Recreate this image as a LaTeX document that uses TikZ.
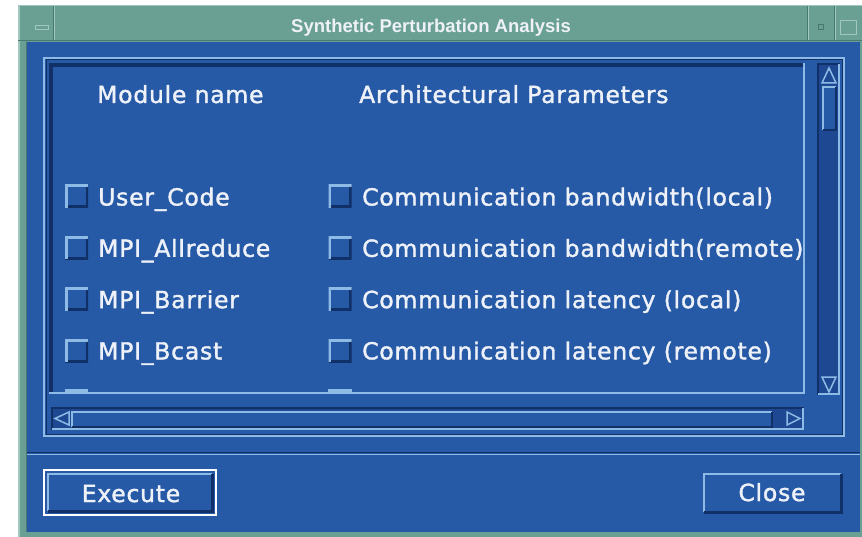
\documentclass[tikz,border=0pt]{standalone}
\usepackage{fontspec}
\setmainfont{DejaVu Sans}
\newfontfamily\guifont[LetterSpace=3.2,FakeBold=1.5]{DejaVu Sans}
\newfontfamily\titlefont{Liberation Sans}
\definecolor{bgblue}{RGB}{38,90,166}
\definecolor{teal}{RGB}{106,160,148}
\definecolor{tealdark}{RGB}{72,120,112}
\definecolor{teallight}{RGB}{160,200,190}
\definecolor{edgelight}{RGB}{142,186,230}
\definecolor{edgedark}{RGB}{18,48,104}
\definecolor{trough}{RGB}{30,72,145}
\definecolor{textc}{RGB}{238,242,248}
\tikzset{
  lbl/.style={anchor=base west, inner sep=0, text=textc, font=\guifont\fontsize{23.5}{26}\selectfont},
  btxt/.style={anchor=base, inner sep=0, text=textc, font=\guifont\fontsize{23.5}{26}\selectfont},
  cbox/.style={minimum width=23pt, minimum height=23pt, inner sep=0, fill=bgblue,
    path picture={
      \draw[edgedark, line width=5pt] (path picture bounding box.south west) -| (path picture bounding box.north east);
      \draw[edgelight, line width=5pt] (path picture bounding box.south west) |- (path picture bounding box.north east);
    }},
  hi/.style={edgelight, line width=2pt},
  lo/.style={edgedark, line width=2pt},
}
\begin{document}
\begin{tikzpicture}[x=1pt, y=-1pt]
\useasboundingbox (0,0) rectangle (862,537);
\fill[white] (0,0) rectangle (862,537);
% window frame
\fill[teal] (18,5) rectangle (862,537);
\draw[teallight, line width=1.5pt] (18.75,537) -- (18.75,5.75) -- (862,5.75);
\draw[tealdark, line width=1pt] (26,42) -- (26,532);
% title bar
\draw[tealdark, line width=1pt] (18,40.5) -- (862,40.5);
\draw[teallight, line width=1pt] (54,6) -- (54,40);
\draw[tealdark, line width=1pt] (53,6) -- (53,40);
\draw[teallight, line width=1pt] (808.5,6) -- (808.5,40);
\draw[tealdark, line width=1pt] (807.5,6) -- (807.5,40);
\draw[teallight, line width=1pt] (835.5,6) -- (835.5,40);
\draw[tealdark, line width=1pt] (834.5,6) -- (834.5,40);
\draw[teallight, line width=1pt] (35,26) rectangle (48,30);
\draw[tealdark, line width=1pt] (818,25) rectangle (823,30);
\draw[teallight, line width=1pt] (840,21) rectangle (856,35);
\node[anchor=base, inner sep=0, text=textc, font=\titlefont\bfseries\fontsize{18.5}{20}\selectfont] (title) at (431,33) {Synthetic Perturbation Analysis};
% client area
\fill[bgblue] (27,42) rectangle (860,532);
% panel etched frame
\draw[edgelight, line width=1.5pt] (44,58) rectangle (844,436);
\draw[edgedark, line width=1pt] (46,60) rectangle (842,434);
% headers
\node[lbl] (hmod) at (97,103) {Module name};
\node[lbl] (harch) at (359,103) {Architectural Parameters};
% checkboxes and labels
\node[cbox] (c1) at (76.5,196.5) {};
\node[cbox] (c2) at (76.5,248) {};
\node[cbox] (c3) at (76.5,299.5) {};
\node[cbox] (c4) at (76.5,350.5) {};
\node[cbox] (d1) at (340,196.5) {};
\node[cbox] (d2) at (340,248) {};
\node[cbox] (d3) at (340,299.5) {};
\node[cbox] (d4) at (340,350.5) {};
\node[lbl] (m1) at (98,205.5) {User\_Code};
\node[lbl] (m2) at (98,256.8) {MPI\_Allreduce};
\node[lbl] (m3) at (98,308.1) {MPI\_Barrier};
\node[lbl] (m4) at (98,359.4) {MPI\_Bcast};
\node[lbl] (a1) at (362,205.5) {Communication bandwidth(local)};
\begin{scope}
\clip (50,64) rectangle (803,392);
\node[lbl] (a2) at (362,256.8) {Communication bandwidth(remote)};
\end{scope}
\node[lbl] (a3) at (362,308.1) {Communication latency (local)};
\node[lbl] (a4) at (362,359.4) {Communication latency (remote)};
% content frame
\draw[edgedark, line width=4pt] (51,394) -- (51,65) -- (804,65);
\draw[edgelight, line width=2pt] (49,393) -- (804,393) -- (804,63);
% clipped next-row boxes
\fill[edgelight] (65,389) rectangle (88,392);
\fill[edgelight] (328,389) rectangle (352,392);
% vertical scrollbar
\fill[trough] (817,63) rectangle (840,395);
\draw[edgedark, line width=2pt] (818,395) -- (818,64) -- (840,64);
\draw[edgelight, line width=2pt] (818,394) -- (839,394) -- (839,64);
\draw[edgelight, line width=1.5pt, fill=trough] (829,68) -- (822,83) -- (836,83) -- cycle;
\fill[bgblue] (822,86) rectangle (836,130);
\draw[hi] (823,130) -- (823,87) -- (836,87);
\draw[lo] (823,130) -- (836,130) -- (836,87);
\draw[edgelight, line width=1.5pt, fill=trough] (829,392) -- (822,377) -- (836,377) -- cycle;
% horizontal scrollbar
\fill[trough] (52,407) rectangle (804,430);
\draw[edgedark, line width=2pt] (52,430) -- (52,408) -- (804,408);
\draw[edgelight, line width=2pt] (52,429) -- (803,429) -- (803,408);
\fill[bgblue] (71,411) rectangle (772,427);
\draw[hi] (72,427) -- (72,412) -- (772,412);
\draw[lo] (72,427) -- (772,427) -- (772,412);
\draw[edgelight, line width=1.5pt, fill=trough] (55,418.5) -- (69,412) -- (69,425) -- cycle;
\draw[edgelight, line width=1.5pt, fill=trough] (800,418.5) -- (787,412) -- (787,425) -- cycle;
% separator
\draw[edgedark, line width=1.5pt] (27,452.5) -- (860,452.5);
\draw[edgelight, line width=1pt] (27,454.5) -- (860,454.5);
% Execute button (default)
\draw[white, line width=2.5pt] (44,470) rectangle (216,515);
\draw[hi] (48,511) -- (48,474) -- (212,474);
\draw[edgedark, line width=3pt] (48,511) -- (212,511) -- (212,474);
\node[btxt] (exec) at (131,502) {Execute};
% Close button
\draw[hi] (704,512) -- (704,474) -- (841,474);
\draw[edgedark, line width=3pt] (704,512) -- (841,512) -- (841,474);
\node[btxt] (close) at (772,501) {Close};
\end{tikzpicture}
\end{document}
